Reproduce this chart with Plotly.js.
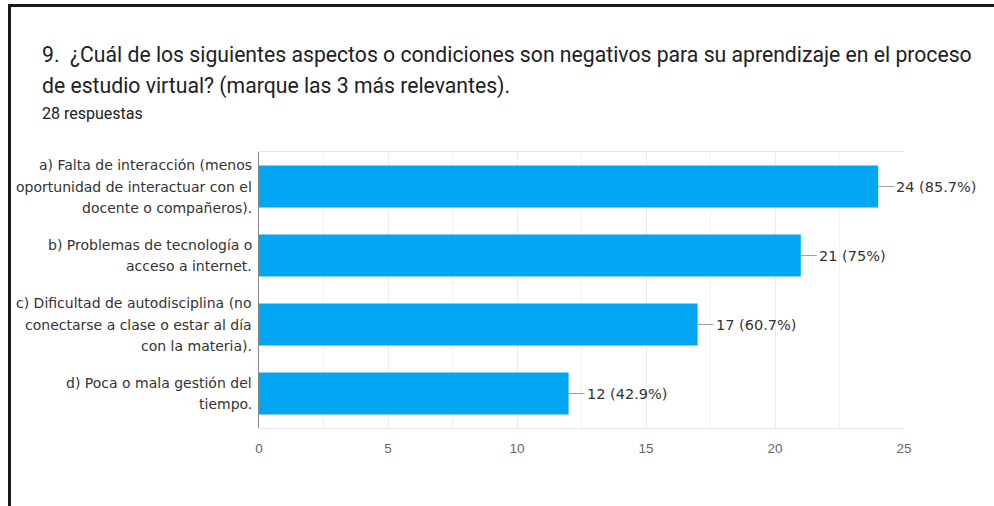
<!DOCTYPE html>
<html>
<head>
<meta charset="utf-8">
<script src="https://cdn.plot.ly/plotly-3.0.1.min.js"></script>
<style>
  html, body { margin: 0; padding: 0; background: #fff; }
  #wrap { position: relative; width: 994px; height: 506px; overflow: hidden; }
  #chart { position: absolute; left: 0; top: 0; width: 994px; height: 506px; }
  #frame { position: absolute; left: 8px; top: 4px; width: 1000px; height: 600px;
           border-top: 3px solid #1a1a1a; border-left: 3px solid #1a1a1a; pointer-events: none; }
</style>
</head>
<body>
<div id="wrap">
  <div id="chart"></div>
  <div id="frame"></div>
</div>
<script>
// ---- data ----
const titleLines = [
  "9.&nbsp; ¿Cuál de los siguientes aspectos o condiciones son negativos para su aprendizaje en el proceso",
  "de estudio virtual? (marque las 3 más relevantes)."
];
const subtitle = "28 respuestas";
const categories = [
  "a) Falta de interacción (menos<br>oportunidad de interactuar con el<br>docente o compañeros).",
  "b) Problemas de tecnología o<br>acceso a internet.",
  "c) Dificultad de autodisciplina (no<br>conectarse a clase o estar al día<br>con la materia).",
  "d) Poca o mala gestión del<br>tiempo."
];
const counts = [24, 21, 17, 12];
const percents = ["85.7%", "75%", "60.7%", "42.9%"];
const xTicks = [0, 5, 10, 15, 20, 25];

// ---- layout helpers (pixel geometry of the plot area) ----
const W = 994, H = 506;
const M = { l: 259, r: 90, t: 152, b: 78 };
const PW = W - M.l - M.r, PH = H - M.t - M.b;
const px2x = px => (px - M.l) / PW;
const py2y = py => (H - M.b - py) / PH;

const labelFont = { family: "DejaVu Sans, Liberation Sans, sans-serif", size: 14, color: "#333333" };
const valueFont = { family: "DejaVu Sans, Liberation Sans, sans-serif", size: 14.5, color: "#333333" };
const titleFont = { family: "Roboto, sans-serif", size: 21.2, color: "#202124" };

const annotations = [];
// title lines
annotations.push({ xref: "paper", yref: "paper", x: px2x(40), y: py2y(54), xanchor: "left", yanchor: "middle",
  text: titleLines[0], showarrow: false, font: titleFont });
annotations.push({ xref: "paper", yref: "paper", x: px2x(40), y: py2y(86), xanchor: "left", yanchor: "middle",
  text: titleLines[1], showarrow: false, font: titleFont });
annotations.push({ xref: "paper", yref: "paper", x: px2x(40), y: py2y(113), xanchor: "left", yanchor: "middle",
  text: subtitle, showarrow: false, font: { family: "Roboto, sans-serif", size: 16, color: "#202124" } });

// category labels, one annotation per line for wider line spacing
const lineGap = 21.5;
categories.forEach((c, i) => {
  const lines = c.split("<br>");
  lines.forEach((ln, j) => {
    annotations.push({ xref: "paper", yref: "y", x: 0, y: c, xanchor: "right", yanchor: "middle",
      xshift: -5, yshift: -(j - (lines.length - 1) / 2) * lineGap,
      text: ln, showarrow: false, font: labelFont });
  });
});

// value labels with connector line
categories.forEach((c, i) => {
  annotations.push({ xref: "x", yref: "y", x: counts[i], y: c, ax: 16, ay: 0,
    showarrow: true, arrowhead: 0, arrowwidth: 1, arrowcolor: "#a0a0a0", standoff: 0,
    xanchor: "left", yanchor: "middle",
    text: counts[i] + " (" + percents[i] + ")", font: valueFont });
});

const trace = {
  type: "bar", orientation: "h",
  x: counts, y: categories,
  marker: { color: "#03a6f2", line: { width: 0 } },
  hoverinfo: "none"
};

const layout = {
  width: W, height: H,
  margin: M,
  paper_bgcolor: "#ffffff", plot_bgcolor: "#ffffff",
  showlegend: false,
  bargap: 0.39,
  xaxis: {
    range: [0, 25], tickvals: xTicks, ticks: "", ticklabelstandoff: 8,
    showgrid: true, gridcolor: "#ebebeb", gridwidth: 1,
    minor: { dtick: 2.5, showgrid: true, gridcolor: "#f2f2f2", gridwidth: 1 },
    showline: true, linecolor: "#e6e6e6", linewidth: 1, mirror: true,
    zeroline: false,
    tickfont: { family: "Liberation Sans, Arial, sans-serif", size: 13.5, color: "#666666" }
  },
  yaxis: {
    type: "category", autorange: "reversed",
    showticklabels: false, ticks: "",
    showgrid: false, zeroline: false,
    showline: true, linecolor: "#888888", linewidth: 1
  },
  annotations: annotations
};

Plotly.newPlot("chart", [trace], layout, { staticPlot: true });
</script>
</body>
</html>
